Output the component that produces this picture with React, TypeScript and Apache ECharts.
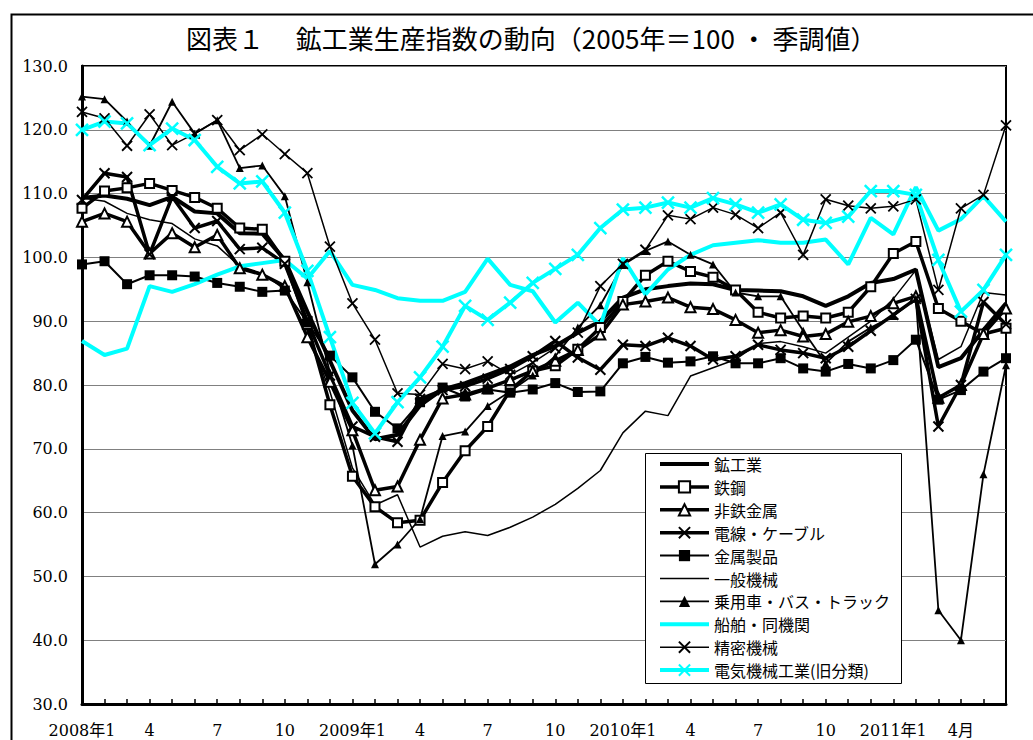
import React, { useEffect, useRef } from "react";
import * as echarts from "echarts";

const categories = [
  "2008年1", "2", "3", "4", "5", "6", "7", "8", "9", "10", "11", "12",
  "2009年1", "2", "3", "4", "5", "6", "7", "8", "9", "10", "11", "12",
  "2010年1", "2", "3", "4", "5", "6", "7", "8", "9", "10", "11", "12",
  "2011年1", "2", "3", "4月", "5", "6",
];

const mining = [
  109.3, 109.7, 109.2, 108.2, 109.5, 107.2, 106.9, 103.8, 103.7, 99.6, 91.5, 83.8,
  76.0, 71.5, 72.2, 76.8, 79.3, 80.3, 81.6, 82.9, 84.7, 86.1, 88.2, 90.0,
  93.7, 95.0, 95.5, 95.9, 95.8, 94.9, 94.8, 94.7, 93.9, 92.4, 93.9, 96.0,
  96.6, 98.1, 82.8, 84.2, 88.6, 92.8,
];
const steel = [
  107.7, 110.4, 110.9, 111.6, 110.5, 109.4, 107.7, 104.6, 104.4, 99.4, 89.5, 76.9,
  65.7, 60.9, 58.4, 58.8, 64.7, 69.7, 73.5, 79.2, 82.2, 83.0, 85.6, 89.0,
  93.1, 97.2, 99.4, 97.8, 96.9, 94.9, 91.4, 90.5, 90.8, 90.5, 91.4, 95.4,
  100.6, 102.5, 92.0, 90.0, 88.0, 88.9,
];
const nonFerrous = [
  105.6, 106.9, 105.6, 100.6, 103.8, 101.6, 103.5, 98.3, 97.3, 95.5, 87.5, 80.5,
  72.9, 63.5, 64.1, 71.4, 77.9, 78.5, 79.5, 80.8, 82.2, 83.8, 85.5, 87.9,
  92.6, 93.1, 93.7, 92.2, 91.9, 90.2, 88.2, 88.6, 87.6, 88.0, 89.9, 90.8,
  92.8, 93.9, 78.0, 80.0, 88.0, 92.0,
];
const wire = [
  109.0, 113.2, 112.6, 100.5, 109.5, 104.6, 105.7, 101.3, 101.5, 99.0, 90.0, 81.5,
  73.5, 71.9, 71.1, 77.8, 79.2, 79.8, 81.0, 82.5, 84.5, 86.9, 84.3, 82.4,
  86.3, 86.1, 87.4, 86.1, 84.0, 84.5, 86.3, 85.5, 85.0, 84.2, 86.0, 88.5,
  91.0, 93.5, 73.5, 80.0, 93.0, 89.5,
];
const metalProducts = [
  98.9, 99.4, 95.8, 97.2, 97.2, 97.0, 96.0, 95.4, 94.6, 94.8, 89.8, 84.6,
  81.2, 75.8, 73.2, 77.3, 79.6, 78.2, 79.3, 78.8, 79.3, 80.3, 78.9, 79.0,
  83.4, 84.4, 83.5, 83.7, 84.5, 83.4, 83.4, 84.2, 82.6, 82.1, 83.3, 82.6,
  83.9, 87.1, 77.7, 79.2, 82.1, 84.2,
];
const generalMachinery = [
  109.3, 108.8, 106.9, 105.9, 105.3, 102.9, 101.8, 98.6, 97.5, 95.0, 88.5, 79.0,
  67.0, 61.2, 62.8, 54.6, 56.3, 57.0, 56.4, 57.7, 59.3, 61.3, 63.8, 66.6,
  72.5, 75.9, 75.2, 81.4, 82.7, 84.0, 86.5, 86.8, 86.0, 85.0, 87.5, 90.0,
  93.5, 98.0, 84.0, 86.0, 94.5, 94.1,
];
const vehicles = [
  125.2, 124.8, 121.3, 117.5, 124.4, 119.4, 121.5, 114.0, 114.4, 109.6, 96.1, 82.0,
  70.5, 51.9, 55.0, 59.0, 72.0, 72.7, 76.7, 79.0, 81.5, 84.5, 89.0, 92.5,
  98.8, 101.0, 102.5, 100.4, 98.9, 94.5, 93.9, 93.9, 88.5, 83.4, 86.8, 89.0,
  90.8, 93.5, 44.7, 40.0, 66.0, 83.1,
];
const ships = [
  86.9, 84.7, 85.7, 95.5, 94.6, 95.8, 97.3, 98.6, 99.1, 99.6, 96.7, 101.0,
  95.7, 94.9, 93.6, 93.2, 93.2, 94.6, 99.8, 95.7, 94.7, 89.8, 92.9, 89.3,
  99.9, 94.2, 98.1, 100.4, 101.9, 102.3, 102.7, 102.3, 102.3, 102.8, 98.9, 106.2,
  103.6, 111.0, 104.2, 106.0, 109.6, 105.6,
];
const precision = [
  122.8, 121.8, 117.5, 122.4, 117.6, 119.4, 121.5, 116.8, 119.3, 116.2, 113.2, 101.7,
  92.8, 87.1, 78.7, 78.5, 83.3, 82.5, 83.7, 81.6, 83.5, 85.8, 88.2, 95.5,
  99.0, 101.2, 106.6, 106.0, 107.8, 106.7, 104.6, 107.0, 100.4, 109.1, 108.1, 107.7,
  108.0, 109.1, 94.9, 107.7, 109.8, 120.7,
];
const electrical = [
  120.0, 121.3, 121.0, 117.6, 120.2, 118.4, 114.2, 111.6, 111.9, 107.0, 97.9, 87.5,
  77.2, 72.4, 77.3, 81.2, 86.0, 92.4, 90.2, 92.9, 96.0, 98.2, 100.4, 104.6,
  107.5, 107.8, 108.6, 107.8, 109.3, 108.3, 107.0, 108.3, 105.9, 105.4, 106.4, 110.4,
  110.4, 109.8, 99.6, 91.5, 94.9, 100.4,
];

const seriesNames = [
  "鉱工業",
  "鉄鋼",
  "非鉄金属",
  "電線・ケーブル",
  "金属製品",
  "一般機械",
  "乗用車・バス・トラック",
  "船舶・同機関",
  "精密機械",
  "電気機械工業(旧分類)",
];

const titleText = "図表１　 鉱工業生産指数の動向（2005年＝100 ・ 季調値）";

const X_PATH = "path://M0,0L10,10M10,0L0,10";
const BLACK = "#000000";
const CYAN = "#00FFFF";
const SERIF = "'DejaVu Serif', 'Noto Sans CJK JP', serif";
const SANS_JP = "'Noto Sans CJK JP', sans-serif";

type Cfg = {
  width: number;
  color?: string;
  symbol?: string;
  size?: number;
  item?: any;
};

const styles: Cfg[] = [
  { width: 4 },
  { width: 3.5, symbol: "rect", size: 9, item: { color: "#ffffff", borderColor: BLACK, borderWidth: 2 } },
  { width: 3.5, symbol: "triangle", size: 10, item: { color: "#ffffff", borderColor: BLACK, borderWidth: 2 } },
  { width: 3.5, symbol: X_PATH, size: 10, item: { color: "transparent", borderColor: BLACK, borderWidth: 2 } },
  { width: 2, symbol: "rect", size: 10, item: { color: BLACK } },
  { width: 1.5 },
  { width: 1.8, symbol: "triangle", size: 8, item: { color: BLACK } },
  { width: 4, color: CYAN },
  { width: 1.5, symbol: X_PATH, size: 10, item: { color: "transparent", borderColor: BLACK, borderWidth: 1.8 } },
  { width: 4, color: CYAN, symbol: X_PATH, size: 12, item: { color: "transparent", borderColor: CYAN, borderWidth: 2.5 } },
];

const seriesData = [
  mining, steel, nonFerrous, wire, metalProducts,
  generalMachinery, vehicles, ships, precision, electrical,
];

export default function App() {
  const ref = useRef<HTMLDivElement>(null);

  useEffect(() => {
    if (!ref.current) return;
    const chart = echarts.init(ref.current, null, { renderer: "svg" });

    const series = seriesNames.map((name, i) => {
      const c = styles[i];
      return {
        name,
        type: "line",
        data: seriesData[i],
        showAllSymbol: true,
        symbol: c.symbol || "none",
        symbolSize: c.size || 8,
        lineStyle: { color: c.color || BLACK, width: c.width },
        itemStyle: c.item || { color: c.color || BLACK },
        emphasis: { disabled: true },
      };
    });

    const legendData = seriesNames.map((name, i) => {
      const c = styles[i];
      const item: any = {
        name,
        lineStyle: { color: c.color || BLACK, width: c.width },
      };
      if (!c.symbol) item.itemStyle = { opacity: 0 };
      return item;
    });

    const option: any = {
      animation: false,
      backgroundColor: "#ffffff",
      title: {
        text: titleText,
        left: 186,
        top: 24,
        padding: 0,
        textStyle: {
          fontFamily: SANS_JP,
          fontSize: 26,
          fontWeight: "normal",
          color: BLACK,
        },
      },
      graphic: [
        {
          type: "rect",
          left: 9,
          top: 12,
          shape: { width: 1100, height: 800 },
          style: { fill: "none", stroke: BLACK, lineWidth: 2 },
          z: 0,
        },
        {
          type: "rect",
          left: 645,
          top: 453,
          shape: { width: 256, height: 230 },
          style: { fill: "#ffffff", stroke: BLACK, lineWidth: 1 },
          z: 3,
        },
      ],
      grid: {
        left: 82,
        right: 27,
        top: 66,
        bottom: 36,
        show: true,
        borderColor: BLACK,
        borderWidth: 2,
        backgroundColor: "transparent",
      },
      legend: {
        orient: "vertical",
        left: 658,
        top: 456,
        itemWidth: 49,
        itemHeight: 14,
        itemGap: 6.9,
        padding: 0,
        selectedMode: false,
        z: 10,
        textStyle: {
          fontFamily: SANS_JP,
          fontSize: 16,
          color: BLACK,
        },
        data: legendData,
      },
      xAxis: {
        type: "category",
        data: categories,
        boundaryGap: false,
        axisLine: { lineStyle: { color: BLACK, width: 3 } },
        axisTick: {
          show: true,
          inside: true,
          length: 5,
          interval: 0,
          lineStyle: { color: BLACK, width: 1.5 },
        },
        axisLabel: {
          interval: 2,
          margin: 18,
          fontFamily: SERIF,
          fontSize: 16,
          color: BLACK,
        },
        splitLine: { show: false },
      },
      yAxis: {
        type: "value",
        min: 30,
        max: 130,
        interval: 10,
        axisLine: { show: true, lineStyle: { color: BLACK, width: 3 } },
        axisTick: { show: false },
        axisLabel: {
          formatter: (v: number) => v.toFixed(1),
          margin: 14,
          fontFamily: SERIF,
          fontSize: 16,
          color: BLACK,
        },
        splitLine: { lineStyle: { color: "#808080", width: 1 } },
      },
      series,
    };
    chart.setOption(option);
    return () => {
      chart.dispose();
    };
  }, []);

  return (
    <div
      ref={ref}
      style={{ position: "absolute", left: 0, top: 0, width: 1033, height: 740 }}
    />
  );
}
